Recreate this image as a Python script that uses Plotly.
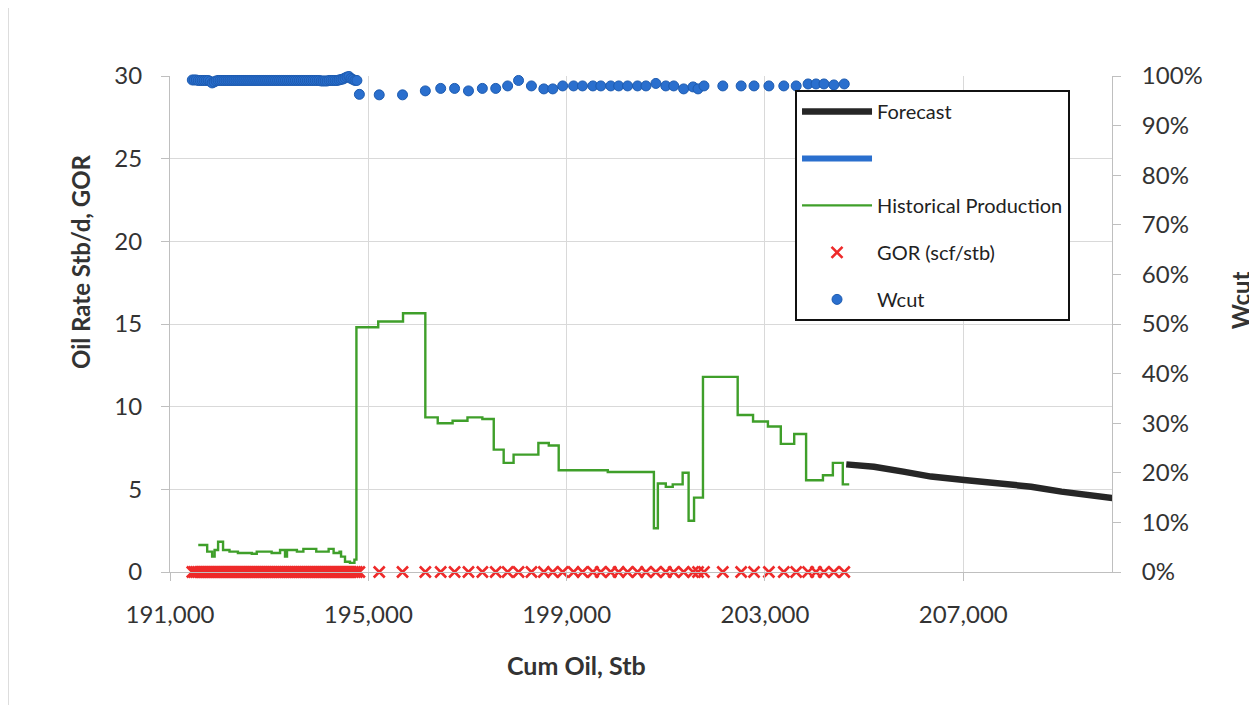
import plotly.graph_objects as go

# ---------------- data ----------------
hist_cum = [191570, 191750, 191850, 191900, 191970, 192070, 192200, 192370, 192650, 192750,
            193050, 193220, 193320, 193360, 193560, 193690, 193950, 194200, 194300, 194420,
            194450, 194530, 194630, 194720, 194760, 195200, 195700, 196150, 196400, 196700,
            197000, 197300, 197530, 197730, 197930, 198430, 198640, 198840, 199830, 200760,
            200840, 201000, 201140, 201340, 201460, 201570, 201750, 202450, 202760, 203060,
            203320, 203590, 203830, 204170, 204370, 204570, 204700]
hist_rate = [1.63, 1.23, 0.93, 1.33, 1.83, 1.33, 1.23, 1.15, 1.10, 1.23,
             1.15, 1.33, 0.93, 1.33, 1.23, 1.40, 1.23, 1.40, 1.15, 1.23,
             0.93, 0.62, 0.55, 0.75, 14.8, 15.15, 15.65, 9.35, 9.0, 9.15,
             9.35, 9.25, 7.4, 6.6, 7.1, 7.8, 7.65, 6.15, 6.05, 2.65,
             5.35, 5.15, 5.3, 6.0, 3.1, 4.5, 11.8, 9.5, 9.1, 8.8,
             7.75, 8.35, 5.55, 5.85, 6.6, 5.3, 5.3]

fc_cum = [204640, 205200, 205790, 206350, 207020, 207710, 208370, 208980, 209440, 210030]
fc_rate = [6.51, 6.37, 6.07, 5.77, 5.57, 5.37, 5.16, 4.86, 4.66, 4.46]

early_cum = [191450, 191490, 191530, 191570, 191610, 191650, 191690, 191730, 191770, 191810,
             191850, 191890, 191930, 191970, 192010, 192050, 192090, 192130, 192170, 192210,
             192250, 192290, 192330, 192370, 192410, 192450, 192490, 192530, 192570, 192610,
             192650, 192690, 192730, 192770, 192810, 192850, 192890, 192930, 192970, 193010,
             193050, 193090, 193130, 193170, 193210, 193250, 193290, 193330, 193370, 193410,
             193450, 193490, 193530, 193570, 193610, 193650, 193690, 193730, 193770, 193810,
             193850, 193890, 193930, 193970, 194010, 194050, 194090, 194130, 194170, 194210,
             194250, 194290, 194330, 194370, 194410, 194450, 194490, 194530, 194570, 194610,
             194650, 194690, 194730, 194770]
early_wcut = [0.992, 0.992, 0.992, 0.991, 0.991, 0.991, 0.991, 0.991, 0.991, 0.989,
              0.986, 0.988, 0.990, 0.991, 0.991, 0.991, 0.991, 0.991, 0.991, 0.991,
              0.991, 0.991, 0.991, 0.991, 0.991, 0.991, 0.991, 0.991, 0.991, 0.991,
              0.991, 0.991, 0.991, 0.991, 0.991, 0.991, 0.991, 0.991, 0.991, 0.991,
              0.991, 0.991, 0.991, 0.991, 0.991, 0.991, 0.991, 0.991, 0.991, 0.991,
              0.991, 0.991, 0.991, 0.991, 0.991, 0.991, 0.991, 0.991, 0.991, 0.991,
              0.991, 0.991, 0.991, 0.991, 0.991, 0.990, 0.990, 0.990, 0.990, 0.991,
              0.991, 0.991, 0.991, 0.991, 0.992, 0.993, 0.994, 0.996, 0.998, 0.999,
              0.995, 0.993, 0.991, 0.991]
early_gor = [0] * len(early_cum)

samp_cum = [194820, 195220, 195690, 196150, 196460, 196740, 197020, 197300, 197570, 197810,
            198030, 198290, 198540, 198720, 198920, 199140, 199320, 199530, 199690, 199890,
            200050, 200230, 200430, 200600, 200800, 201000, 201160, 201360, 201550, 201650,
            201770, 202150, 202520, 202780, 203080, 203380, 203630, 203870, 204030, 204190,
            204390, 204600]
samp_wcut = [0.963, 0.962, 0.962, 0.970, 0.975, 0.975, 0.970, 0.975, 0.975, 0.980,
             0.991, 0.980, 0.974, 0.974, 0.980, 0.980, 0.980, 0.980, 0.980, 0.980,
             0.980, 0.980, 0.980, 0.980, 0.985, 0.980, 0.980, 0.974, 0.978, 0.974,
             0.980, 0.980, 0.980, 0.980, 0.980, 0.980, 0.980, 0.984, 0.984, 0.984,
             0.982, 0.984]
samp_gor = [0] * len(samp_cum)

x_ticks = [191000, 195000, 199000, 203000, 207000]
x_ticklabels = ["191,000", "195,000", "199,000", "203,000", "207,000"]

# ---------------- figure ----------------
FONT = "Lato, 'Open Sans', sans-serif"
GREEN = "#3f9f2a"
RED = "#ee2a2a"
BLUE = "#2a6fce"

fig = go.Figure()

fig.add_trace(go.Scatter(
    x=hist_cum, y=hist_rate, mode="lines", line_shape="hv",
    line=dict(color=GREEN, width=2.4), name="Historical Production",
    legendrank=3, legendgroup="c"))

fig.add_trace(go.Scatter(
    x=early_cum + samp_cum, y=early_gor + samp_gor, mode="markers", cliponaxis=False,
    marker=dict(symbol="x-thin", size=11, line=dict(color=RED, width=2.6), color=RED),
    name="GOR (scf/stb)", legendrank=4, legendgroup="d"))

fig.add_trace(go.Scatter(
    x=fc_cum, y=fc_rate, mode="lines",
    line=dict(color="#262626", width=6.5), name="Forecast",
    legendrank=1, legendgroup="a"))

fig.add_trace(go.Scatter(
    x=[None], y=[None], mode="lines",
    line=dict(color=BLUE, width=6), name=" ",
    legendrank=2, legendgroup="b"))

fig.add_trace(go.Scatter(
    x=early_cum + samp_cum, y=early_wcut + samp_wcut, mode="markers", yaxis="y2",
    cliponaxis=False,
    marker=dict(symbol="circle", size=10, color=BLUE, line=dict(color="#1d5bb0", width=1)),
    name="Wcut", legendrank=5, legendgroup="e"))

axis_common = dict(
    showline=True, linecolor="#bfbfbf", linewidth=1,
    ticks="outside", tickcolor="#bfbfbf", ticklen=8,
    tickfont=dict(family=FONT, size=24, color="#333333"),
    zeroline=False,
)

fig.update_layout(
    width=1249, height=697,
    margin=dict(l=162, r=145, t=68, b=133),
    paper_bgcolor="white", plot_bgcolor="white",
    font=dict(family=FONT, color="#333333"),
    showlegend=True,
    legend=dict(
        x=0.6635, y=0.972, xanchor="left", yanchor="top",
        bgcolor="white", bordercolor="#111111", borderwidth=2,
        font=dict(family=FONT, size=20, color="#222222"),
        tracegroupgap=18, itemwidth=70,
    ),
    xaxis=dict(
        range=[191000, 210000], tickvals=x_ticks, ticktext=x_ticklabels,
        showgrid=True, gridcolor="#d9d9d9", gridwidth=1,
        ticklabelstandoff=13,
        **axis_common,
    ),
    yaxis=dict(
        range=[0, 30], dtick=5, tick0=0,
        showgrid=True, gridcolor="#d9d9d9", gridwidth=1,
        ticklabelstandoff=14,
        **axis_common,
    ),
    yaxis2=dict(
        range=[0, 1], dtick=0.1, tick0=0, tickformat=".0%",
        overlaying="y", side="right", showgrid=False,
        ticklabelstandoff=16,
        **axis_common,
    ),
    annotations=[
        dict(text="<b>Cum Oil, Stb</b>", xref="paper", yref="paper", x=0.431, y=-0.1875,
             xanchor="center", yanchor="middle", showarrow=False,
             font=dict(family=FONT, size=25, color="#333333")),
        dict(text="<b>Oil Rate Stb/d, GOR</b>", xref="paper", yref="paper", x=-0.0955, y=0.625,
             xanchor="center", yanchor="middle", showarrow=False, textangle=-90,
             font=dict(family=FONT, size=24, color="#333333")),
        dict(text="<b>Wcut</b>", xref="paper", yref="paper", x=1.136, y=0.548,
             xanchor="center", yanchor="middle", showarrow=False, textangle=-90,
             font=dict(family=FONT, size=24, color="#333333")),
    ],
    shapes=[
        dict(type="line", xref="paper", yref="paper", x0=-0.172, x1=-0.172, y0=-0.27, y1=1.16,
             line=dict(color="#d0d0d0", width=1.5)),
        dict(type="line", xref="paper", yref="paper", x0=1.1465, x1=1.1465, y0=-0.27, y1=1.16,
             line=dict(color="#e0e0e0", width=1.5)),
    ],
)

fig.write_html("out.html")
